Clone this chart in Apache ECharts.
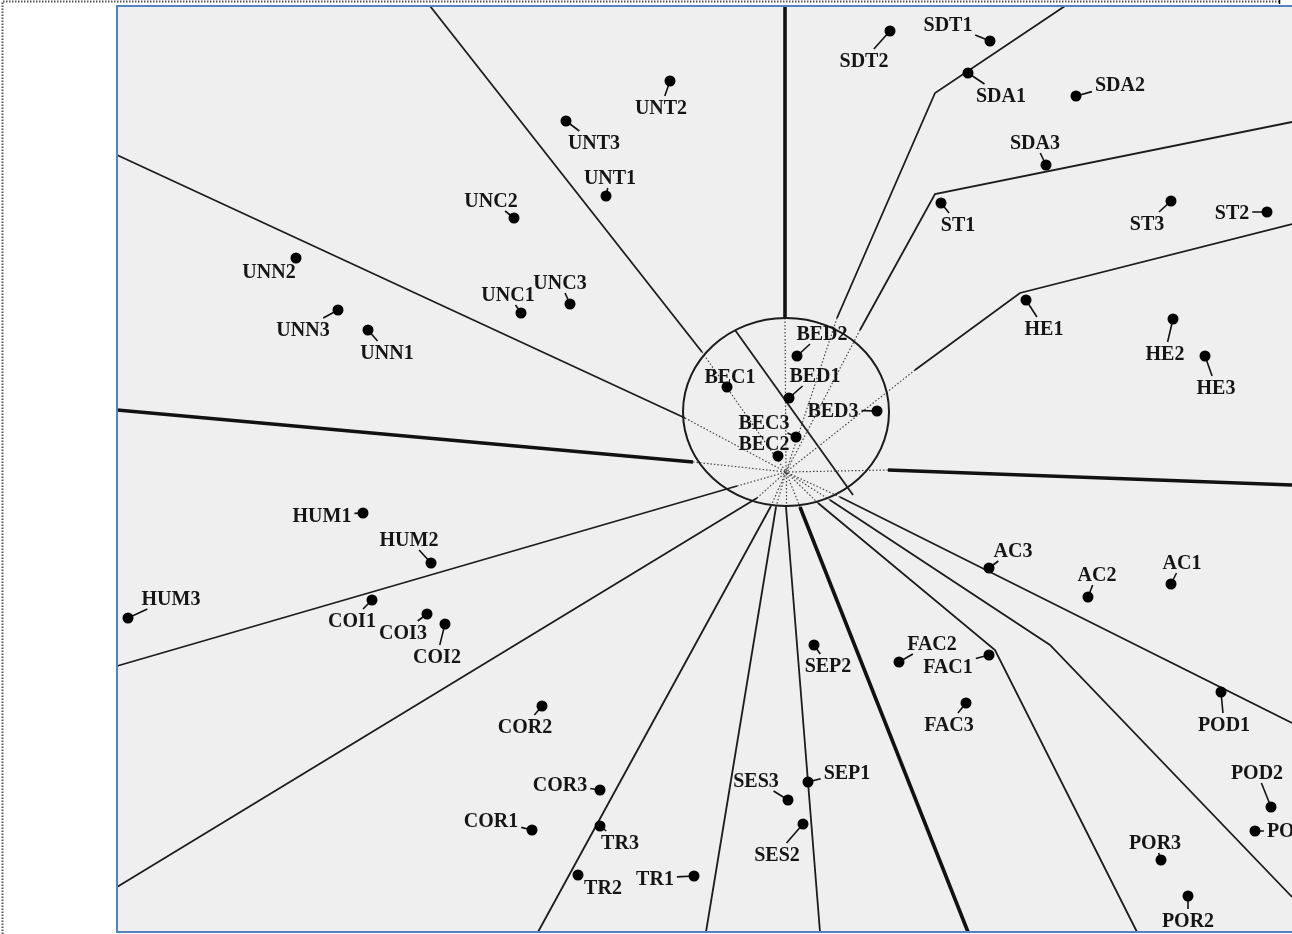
<!DOCTYPE html>
<html>
<head>
<meta charset="utf-8">
<script src="https://cdn.jsdelivr.net/npm/echarts@6/dist/echarts.min.js"></script>
<style>
  html, body { margin: 0; padding: 0; background: #ffffff; }
  #chart { width: 1292px; height: 934px; }
</style>
</head>
<body>
<div id="chart"></div>
<script>
// ---- Item codes and their positions on the map ----
const codes = ['SDT1','SDT2','SDA1','SDA2','SDA3','ST1','ST3','ST2','HE1','HE2','HE3',
  'UNT2','UNT3','UNT1','UNC2','UNN2','UNN3','UNN1','UNC1','UNC3',
  'BED2','BEC1','BED1','BED3','BEC3','BEC2',
  'HUM1','HUM2','HUM3','COI1','COI3','COI2','COR2','COR3','COR1',
  'TR3','TR2','TR1','SEP2','SEP1','SES3','SES2',
  'FAC2','FAC1','FAC3','AC3','AC2','AC1',
  'POD1','POD2','POD3','POR3','POR2'];
const itemX = [990,890,968,1076,1046,941,1171,1267,1026,1173,1205,
  670,566,606,514,296,338,368,521,570,
  797,727,789,877,796,778,
  363,431,128,372,427,445,542,600,532,
  600,578,694,814,808,788,803,
  899,989,966,989,1088,1171,
  1221,1271,1255,1161,1188];
const itemY = [41,31,73,96,165,203,201,212,300,319,356,
  81,121,196,218,258,310,330,313,304,
  356,387,398,411,437,456,
  513,563,618,600,614,624,706,790,830,
  826,875,876,645,782,800,824,
  662,655,703,568,597,584,
  692,807,831,860,896];

// ---- Region boundaries (each polyline ends at its inner end on the ellipse) ----
const hub = [786, 472];
const ellipseCenter = [786, 412];
const ellipseRadii = [103, 94];
const thinBounds = [
  [[430,6],[702,352]],
  [[1065,6],[935,93],[837,318]],
  [[1292,122],[935,194],[860,330]],
  [[1292,224],[1020,293],[915,370]],
  [[117,155],[685,418]],
  [[117,666],[737,486]],
  [[117,887],[757,498]],
  [[538,932],[771,506]],
  [[706,932],[776,507]],
  [[820,932],[786,507]],
  [[1137,932],[995,650],[818,503]],
  [[1292,897],[1050,645],[830,500]],
  [[1292,723],[840,497]]
];
const chord = [[735,330],[853,495]];
const thickBounds = [
  [[785,6],[785,318]],
  [[117,410],[693,462]],
  [[1292,485],[888,470]],
  [[968,932],[800,507]]
];

// ---- Label placement (label centres) ----
const labelX = [948,864,1001,1120,1035,958,1147,1232,1044,1165,1216,
  661,594,610,491,269,303,387,508,560,
  822,730,815,833,764,764,
  322,409,171,352,403,437,525,560,491,
  620,603,655,828,847,756,777,
  932,948,949,1013,1097,1182,
  1224,1257,1293,1155,1188];
const labelY = [24,60,95,84,142,224,223,212,328,353,387,
  107,142,177,200,271,329,352,294,282,
  333,376,375,410,422,443,
  515,539,598,620,632,656,726,784,820,
  842,887,878,665,772,780,854,
  643,666,724,550,574,562,
  724,772,830,842,920];

const FONT = 'bold 20px "Liberation Serif", "Times New Roman", serif';
const ctx = document.createElement('canvas').getContext('2d');
ctx.font = FONT;

// leader from each dot toward its label, stopping short of the label box
const leaders = [];
codes.forEach(function (c, i) {
  const dx = labelX[i] - itemX[i], dy = labelY[i] - itemY[i];
  const hw = ctx.measureText(c).width / 2 + 3, hh = 11;
  const sx = dx === 0 ? Infinity : hw / Math.abs(dx);
  const sy = dy === 0 ? Infinity : hh / Math.abs(dy);
  const t = 1 - Math.min(sx, sy);
  if (t > 0.05) {
    leaders.push({ coords: [[itemX[i], itemY[i]], [itemX[i] + dx * t, itemY[i] + dy * t]] });
  }
});

const rays = thinBounds.concat(thickBounds).map(function (b) {
  return { coords: [b[b.length - 1], hub] };
});

const FRAME = '#5583c2';
const chart = echarts.init(document.getElementById('chart'), null, { renderer: 'canvas' });
chart.setOption({
  animation: false,
  backgroundColor: '#ffffff',
  graphic: [
    // dotted page frame
    { type: 'polyline', shape: { points: [[2.5, 934], [2.5, 1.5], [1279.5, 1.5]] },
      style: { fill: null, stroke: '#555', lineWidth: 2, lineDash: [1.5, 1.5] } },
    { type: 'line', shape: { x1: 1279.5, y1: 0, x2: 1279.5, y2: 4 },
      style: { stroke: '#000', lineWidth: 1.5 } },
    // plot frame (open on the right)
    { type: 'polyline', z: 100, shape: { points: [[1292, 6], [117, 6], [117, 932], [1292, 932]] },
      style: { fill: null, stroke: FRAME, lineWidth: 2 } }
  ],
  grid: {
    left: 117, top: 6, right: 0, bottom: 2,
    show: true, backgroundColor: '#efefef', borderWidth: 0
  },
  xAxis: { type: 'value', min: 117, max: 1292, show: false },
  yAxis: { type: 'value', min: 6, max: 932, inverse: true, show: false },
  series: [
    {
      type: 'lines', coordinateSystem: 'cartesian2d', polyline: true, silent: true, z: 2,
      lineStyle: { color: '#1c1c1c', width: 1.8, opacity: 1 },
      data: thinBounds.concat([chord]).map(function (c) { return { coords: c }; })
    },
    {
      type: 'lines', coordinateSystem: 'cartesian2d', polyline: true, silent: true, z: 2,
      lineStyle: { color: '#111', width: 3.6, opacity: 1 },
      data: thickBounds.map(function (c) { return { coords: c }; })
    },
    {
      type: 'lines', coordinateSystem: 'cartesian2d', silent: true, z: 2,
      lineStyle: { color: '#444', width: 1.2, type: [1.5, 2], opacity: 1 },
      data: rays
    },
    {
      type: 'custom', silent: true, z: 3,
      data: [[ellipseCenter[0], ellipseCenter[1], ellipseRadii[0], ellipseRadii[1]]],
      renderItem: function (params, api) {
        const c = api.coord([api.value(0), api.value(1)]);
        const s = api.size([api.value(2), api.value(3)]);
        return {
          type: 'ellipse',
          shape: { cx: c[0], cy: c[1], rx: s[0], ry: s[1] },
          style: { fill: null, stroke: '#1c1c1c', lineWidth: 2 }
        };
      }
    },
    {
      type: 'lines', coordinateSystem: 'cartesian2d', silent: true, z: 4,
      lineStyle: { color: '#111', width: 1.6, opacity: 1 },
      data: leaders
    },
    {
      type: 'scatter', silent: true, z: 5,
      symbol: 'circle', symbolSize: 11,
      itemStyle: { color: '#000', opacity: 1 },
      data: itemX.map(function (x, i) { return [x, itemY[i]]; })
    },
    {
      type: 'custom', silent: true, z: 6,
      data: codes.map(function (c, i) { return [labelX[i], labelY[i], c]; }),
      renderItem: function (params, api) {
        const p = api.coord([api.value(0), api.value(1)]);
        return {
          type: 'text',
          x: p[0], y: p[1] + 2,
          style: {
            text: codes[params.dataIndex],
            font: FONT,
            fill: '#151515',
            align: 'center',
            verticalAlign: 'middle'
          }
        };
      }
    }
  ]
});
</script>
</body>
</html>
